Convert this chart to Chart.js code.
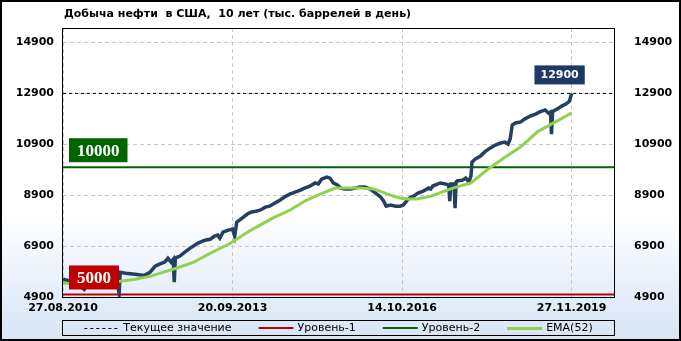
<!DOCTYPE html>
<html>
<head>
<meta charset="utf-8">
<script src="https://cdn.jsdelivr.net/npm/chart.js@4.4.0/dist/chart.umd.min.js"></script>
<style>
  html, body { margin: 0; padding: 0; background: #fff; }
</style>
</head>
<body>
<canvas id="oil" width="681" height="341"></canvas>
<script>
// недели от 27.08.2010 и значения (тыс. баррелей в день)
const weeks = [0, 4, 11, 16, 20, 23, 30, 36, 44, 50, 53, 54, 59, 68, 77, 82, 87, 91, 96, 99,
  102, 104, 105, 106, 107, 110, 115, 120, 123, 127, 134, 139, 143, 146, 148, 151, 156, 160, 162, 164,
  169, 174, 178, 182, 186, 191, 195, 200, 205, 209, 214, 219, 224, 228, 233, 238, 241, 244, 249, 252,
  255, 259, 262, 266, 271, 276, 280, 285, 290, 295, 299, 302, 305, 309, 314, 318, 321, 325, 328, 331,
  335, 340, 345, 347, 349, 356, 361, 364, 365, 366, 369, 370, 371, 372, 377, 380, 383, 385, 386, 389,
  394, 398, 403, 408, 413, 417, 420, 422, 424, 427, 432, 436, 441, 446, 450, 455, 458, 460, 461, 462,
  463, 468, 471, 475, 478, 480];
const production = [5600, 5560, 5440, 5320, 5200, 5400, 5480, 5520, 5560, 5640, 5050, 5870, 5830, 5790, 5750, 5870, 6110, 6190, 6270, 6420,
  6270, 6380, 5480, 6420, 6450, 6500, 6660, 6820, 6900, 7010, 7130, 7170, 7290, 7330, 7210, 7450, 7530, 7570, 7290, 7840,
  8000, 8160, 8240, 8270, 8310, 8430, 8470, 8590, 8710, 8830, 8940, 9020, 9100, 9180, 9260, 9380, 9340, 9530, 9610, 9570,
  9380, 9300, 9180, 9140, 9140, 9180, 9220, 9220, 9140, 8980, 8860, 8710, 8470, 8510, 8470, 8470, 8510, 8710, 8820, 8860,
  8980, 9060, 9180, 9140, 9260, 9380, 9340, 9300, 8670, 9340, 9340, 8390, 9420, 9460, 9490, 9570, 9420, 9650, 10200, 10320,
  10440, 10600, 10750, 10870, 10950, 10990, 10910, 11110, 11660, 11740, 11780, 11900, 12010, 12090, 12170, 12250, 12130, 12170, 11300, 12170,
  12210, 12330, 12410, 12490, 12600, 12900];
const emaWeeks = [0, 16, 35, 54, 68, 82, 91, 106, 123, 139, 158, 177, 198, 214, 230, 245, 257, 266, 280, 293,
  299, 309, 318, 325, 334, 347, 368, 385, 400, 416, 432, 448, 463, 480];
const ema52 = [5440, 5440, 5480, 5520, 5600, 5710, 5830, 6020, 6260, 6620, 7010, 7520, 8000, 8310, 8710, 8980, 9180, 9180, 9180, 9140,
  9060, 8900, 8790, 8750, 8750, 8860, 9180, 9380, 9890, 10360, 10800, 11400, 11740, 12130];

const yTicks = [4900, 6900, 8900, 10900, 12900, 14900];
const xTickWeeks = [0, 160, 320, 480];
const xTickLabels = ['27.08.2010', '20.09.2013', '14.10.2016', '27.11.2019'];
const currentValue = 12900;
const level1 = 5000;
const level2 = 10000;

const X_MIN = 0, X_MAX = 520, Y_MIN = 4900, Y_MAX = 15470;
const FONT = '"DejaVu Sans", Verdana, sans-serif';
const tickFont = { family: FONT, size: 11, weight: 'bold' };

const flat = v => [{ x: X_MIN, y: v }, { x: X_MAX, y: v }];

const legendItems = [
  { text: 'Текущее значение', color: '#000000', width: 1, dash: [3, 3] },
  { text: 'Уровень-1', color: '#c00000', width: 2, dash: [] },
  { text: 'Уровень-2', color: '#006400', width: 2, dash: [] },
  { text: 'EMA(52)', color: '#92d050', width: 3, dash: [] }
];

const decor = {
  id: 'decor',
  beforeDraw(chart) {
    const c = chart.ctx;
    const g = c.createLinearGradient(0, 0, 0, chart.height);
    g.addColorStop(0, '#ffffff');
    g.addColorStop(0.62, '#ffffff');
    g.addColorStop(1, '#d6e5f6');
    c.save();
    c.fillStyle = g;
    c.fillRect(0, 0, chart.width, chart.height);
    c.restore();
  },
  afterDatasetsDraw(chart) {
    const c = chart.ctx;
    const a = chart.chartArea;
    const xs = chart.scales.x, ys = chart.scales.y;
    c.save();
    // плашки уровней
    const levelBox = (val, bg) => {
      c.font = 'bold 17px "Liberation Serif", "Times New Roman", serif';
      const txt = String(val);
      const w = c.measureText(txt).width + 16;
      const h = 24;
      const left = a.left + 6;
      const bottom = ys.getPixelForValue(val) - 5;
      c.fillStyle = bg;
      c.fillRect(left, bottom - h, w, h);
      c.fillStyle = '#fff';
      c.textAlign = 'center';
      c.textBaseline = 'middle';
      c.fillText(txt, left + w / 2, bottom - h / 2 + 1);
    };
    levelBox(level2, '#006400');
    levelBox(level1, '#c00000');

    // текущее значение
    const lastW = weeks[weeks.length - 1];
    c.font = 'bold 11px ' + FONT;
    const cur = String(currentValue);
    const cw = c.measureText(cur).width + 12;
    const cx = xs.getPixelForValue(lastW) - 12;
    const cb = ys.getPixelForValue(currentValue) - 9;
    c.fillStyle = '#1f3864';
    c.fillRect(cx - cw / 2, cb - 19, cw, 19);
    c.fillStyle = '#fff';
    c.textAlign = 'center';
    c.textBaseline = 'middle';
    c.fillText(cur, cx, cb - 9);

    // рамка области графика
    c.strokeStyle = '#000';
    c.lineWidth = 1;
    c.strokeRect(Math.round(a.left) - 0.5, Math.round(a.top) + 0.5, Math.round(a.right - a.left) + 1, Math.round(a.bottom - a.top));
    c.restore();
  },
  afterDraw(chart) {
    const c = chart.ctx;
    const a = chart.chartArea;
    c.save();
    // заголовок
    c.fillStyle = '#000';
    c.font = 'bold 11px ' + FONT;
    c.textAlign = 'left';
    c.textBaseline = 'middle';
    c.fillText('Добыча нефти  в США,  10 лет (тыс. баррелей в день)', a.left + 1, 14);

    // легенда
    const top = 320, bottom = 335;
    c.strokeStyle = '#000';
    c.lineWidth = 1;
    c.strokeRect(Math.round(a.left) - 0.5, top + 0.5, Math.round(a.right - a.left) + 1, bottom - top);
    c.font = '11px ' + FONT;
    const lineLen = 35, gap = 4, spacing = 27;
    const widths = legendItems.map(it => lineLen + gap + c.measureText(it.text).width);
    const total = widths.reduce((s, w) => s + w, 0) + spacing * (legendItems.length - 1);
    let x = (a.left + a.right) / 2 - total / 2;
    const my = (top + bottom) / 2 + 0.5;
    legendItems.forEach((it, i) => {
      c.beginPath();
      c.strokeStyle = it.color;
      c.lineWidth = it.width;
      c.setLineDash(it.dash);
      c.moveTo(x, Math.round(my) + (it.width % 2 ? 0.5 : 0));
      c.lineTo(x + lineLen, Math.round(my) + (it.width % 2 ? 0.5 : 0));
      c.stroke();
      c.setLineDash([]);
      c.fillStyle = '#000';
      c.textBaseline = 'middle';
      c.fillText(it.text, x + lineLen + gap, my);
      x += widths[i] + spacing;
    });

    // внешняя рамка
    c.strokeStyle = '#000';
    c.strokeRect(0.5, 0.5, chart.width - 1, chart.height - 1);
    c.restore();
  }
};

const ctx = document.getElementById('oil');

const chart = new Chart(ctx, {
  type: 'line',
  data: {
    datasets: [{
      label: 'EMA(52)',
      data: emaWeeks.map((w, i) => ({ x: w, y: ema52[i] })),
      borderColor: '#92d050',
      borderWidth: 3,
      pointRadius: 0,
      order: 0
    }, {
      label: 'Добыча',
      data: weeks.map((w, i) => ({ x: w, y: production[i] })),
      borderColor: '#243f60',
      borderWidth: 3.5,
      pointRadius: 0,
      order: 1
    }, {
      label: 'Текущее значение',
      data: flat(currentValue),
      borderColor: '#000',
      borderWidth: 1,
      borderDash: [3, 3],
      pointRadius: 0,
      order: 2
    }, {
      label: 'Уровень-2',
      data: flat(level2),
      borderColor: '#006400',
      borderWidth: 2,
      pointRadius: 0,
      order: 3
    }, {
      label: 'Уровень-1',
      data: flat(level1),
      borderColor: '#c00000',
      borderWidth: 2,
      pointRadius: 0,
      order: 4
    }]
  },
  options: {
    responsive: false,
    animation: false,
    devicePixelRatio: 1,
    layout: { padding: { top: 28, left: 0, right: 0, bottom: 0 } },
    plugins: {
      legend: { display: false },
      title: { display: false },
      tooltip: { enabled: false }
    },
    scales: {
      x: {
        type: 'linear',
        min: X_MIN,
        max: X_MAX,
        afterFit(s) { s.height = 44; },
        afterBuildTicks(s) { s.ticks = xTickWeeks.map(v => ({ value: v })); },
        ticks: {
          autoSkip: false,
          maxRotation: 0,
          padding: 5,
          color: '#000',
          font: tickFont,
          callback: (v, i) => xTickLabels[i]
        },
        grid: { color: '#c8c8c8', drawTicks: false },
        border: { display: false, dash: [4, 3] }
      },
      y: {
        position: 'left',
        min: Y_MIN,
        max: Y_MAX,
        afterFit(s) { s.width = 63; },
        afterBuildTicks(s) { s.ticks = yTicks.map(v => ({ value: v })); },
        ticks: { padding: 9, color: '#000', font: tickFont, callback: v => String(v) },
        grid: { color: '#c8c8c8', drawTicks: false },
        border: { display: false, dash: [4, 3] }
      },
      y2: {
        position: 'right',
        min: Y_MIN,
        max: Y_MAX,
        afterFit(s) { s.width = 67; },
        afterBuildTicks(s) { s.ticks = yTicks.map(v => ({ value: v })); },
        ticks: { padding: 12, color: '#000', font: tickFont, callback: v => String(v) },
        grid: { display: false },
        border: { display: false }
      }
    }
  },
  plugins: [decor]
});
</script>
</body>
</html>
